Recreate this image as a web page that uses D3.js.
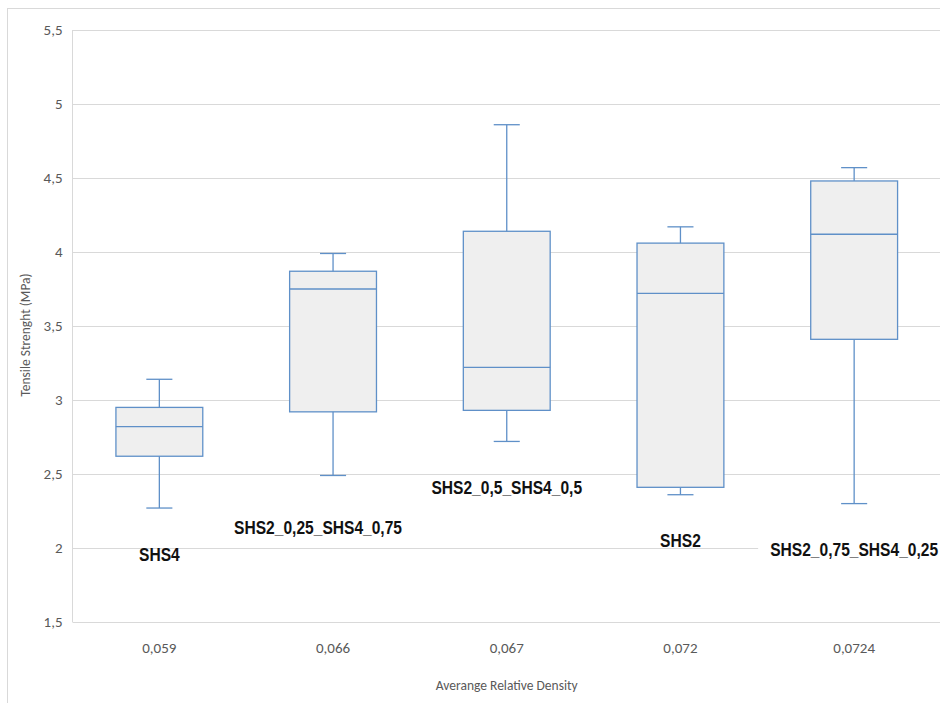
<!DOCTYPE html>
<html>
<head>
<meta charset="utf-8">
<script src="https://cdn.jsdelivr.net/npm/d3@7"></script>
<style>
  body { margin: 0; background: #fff; }
  svg { display: block; }
</style>
</head>
<body>
<div id="vis"></div>
<script>
// categories (x axis = average relative density) and mix names
var densities = ["0,059", "0,066", "0,067", "0,072", "0,0724"];
var names = ["SHS4", "SHS2_0,25_SHS4_0,75", "SHS2_0,5_SHS4_0,5", "SHS2", "SHS2_0,75_SHS4_0,25"];

// box plot statistics (MPa)
var mins    = [2.27, 2.49, 2.72, 2.36, 2.30];
var q1s     = [2.62, 2.92, 2.93, 2.41, 3.41];
var medians = [2.82, 3.75, 3.22, 3.72, 4.12];
var q3s     = [2.95, 3.87, 4.14, 4.06, 4.48];
var maxs    = [3.14, 3.99, 4.86, 4.17, 4.57];

// value where each name label sits
var labelAt = [1.96, 2.14, 2.41, 2.05, 1.99];

var yTicks = [1.5, 2, 2.5, 3, 3.5, 4, 4.5, 5, 5.5];

function draw(width, height) {
    var svg = d3.select("#vis").append("svg")
        .attr("width", width)
        .attr("height", height);

    var left = 72.5, right = 941, top = 30, bottom = 622;
    var fmt = function(d) { return String(d).replace(".", ","); };

    // outer chart border (cropped on right/bottom)
    svg.append("rect")
        .attr("x", 7.5).attr("y", 8.5)
        .attr("width", width).attr("height", height)
        .attr("fill", "none")
        .attr("stroke", "#d9d9d9");

    var y = d3.scaleLinear()
        .domain([1.5, 5.5])
        .range([bottom, top]);

    var x = d3.scaleBand()
        .domain(densities)
        .range([left, right]);

    // gridlines
    var grid = svg.append("g")
        .attr("transform", "translate(" + left + ",0)")
        .call(d3.axisLeft(y).tickValues(yTicks).tickSize(-(right - left)).tickFormat(""));
    grid.select(".domain").remove();
    grid.selectAll("line").attr("stroke", "#d9d9d9").attr("stroke-width", 1.2);

    svg.append("line")
        .attr("x1", left).attr("x2", left)
        .attr("y1", top).attr("y2", bottom)
        .attr("stroke", "#d9d9d9");

    // y tick labels
    var yAxis = svg.append("g")
        .attr("transform", "translate(" + left + ",0)")
        .call(d3.axisLeft(y).tickValues(yTicks).tickSize(0).tickPadding(10).tickFormat(fmt));
    yAxis.select(".domain").remove();
    yAxis.selectAll("text")
        .attr("font-family", "Carlito, Lato, sans-serif")
        .attr("font-size", 15)
        .attr("fill", "#595959");

    // x tick labels
    var xAxis = svg.append("g")
        .attr("transform", "translate(0," + bottom + ")")
        .call(d3.axisBottom(x).tickSize(0).tickPadding(20));
    xAxis.select(".domain").remove();
    xAxis.selectAll("text")
        .attr("font-family", "Carlito, Lato, sans-serif")
        .attr("font-size", 15)
        .attr("fill", "#595959");

    var bw = x.bandwidth();
    var stroke = "#5f90c8";

    var boxes = svg.append("g").selectAll("g")
        .data(densities)
        .join("g");

    // whiskers
    boxes.append("line")
        .attr("x1", function(d) { return x(d) + bw / 2; })
        .attr("x2", function(d) { return x(d) + bw / 2; })
        .attr("y1", function(d, i) { return y(maxs[i]); })
        .attr("y2", function(d, i) { return y(mins[i]); })
        .attr("stroke", stroke).attr("stroke-width", 1.3);

    [maxs, mins].forEach(function(arr) {
        boxes.append("line")
            .attr("x1", function(d) { return x(d) + bw * 0.425; })
            .attr("x2", function(d) { return x(d) + bw * 0.575; })
            .attr("y1", function(d, i) { return y(arr[i]); })
            .attr("y2", function(d, i) { return y(arr[i]); })
            .attr("stroke", stroke).attr("stroke-width", 1.3);
    });

    boxes.append("rect")
        .attr("x", function(d) { return x(d) + bw * 0.25; })
        .attr("width", bw * 0.5)
        .attr("y", function(d, i) { return y(q3s[i]); })
        .attr("height", function(d, i) { return y(q1s[i]) - y(q3s[i]); })
        .attr("fill", "#efefef")
        .attr("stroke", stroke).attr("stroke-width", 1.3);

    boxes.append("line")
        .attr("x1", function(d) { return x(d) + bw * 0.25; })
        .attr("x2", function(d) { return x(d) + bw * 0.75; })
        .attr("y1", function(d, i) { return y(medians[i]); })
        .attr("y2", function(d, i) { return y(medians[i]); })
        .attr("stroke", stroke).attr("stroke-width", 1.3);

    // name labels (two of them sit on a white box that hides the gridline)
    var labelBg = [false, true, false, false, true];
    var labels = svg.append("g").selectAll("g")
        .data(names)
        .join("g")
        .attr("transform", function(d, i) {
            var dx = i === 1 ? -15 : 0;
            return "translate(" + (x(densities[i]) + bw / 2 + dx) + "," + y(labelAt[i]) + ")";
        });

    labels.filter(function(d, i) { return labelBg[i]; })
        .append("rect")
        .attr("x", -96).attr("width", 192)
        .attr("y", -17).attr("height", 34)
        .attr("fill", "#fff");

    // narrow bold look: squeeze the installed bold sans horizontally
    labels.append("text")
        .attr("text-anchor", "middle")
        .attr("dy", "0.36em")
        .attr("transform", "scale(0.82,1)")
        .attr("font-family", "'Liberation Sans', Arial, sans-serif")
        .attr("font-weight", "bold")
        .attr("font-size", 19)
        .attr("fill", "#111")
        .text(function(d) { return d; });

    // axis titles
    svg.append("text")
        .attr("x", (left + right) / 2)
        .attr("y", 690)
        .attr("text-anchor", "middle")
        .attr("font-family", "Carlito, Lato, sans-serif")
        .attr("font-size", 13.5)
        .attr("fill", "#595959")
        .text("Averange Relative Density");

    svg.append("text")
        .attr("transform", "translate(30," + 335 + ") rotate(-90)")
        .attr("text-anchor", "middle")
        .attr("font-family", "Carlito, Lato, sans-serif")
        .attr("font-size", 13.5)
        .attr("fill", "#595959")
        .text("Tensile Strenght (MPa)");
}

draw(940, 703);
</script>
</body>
</html>
